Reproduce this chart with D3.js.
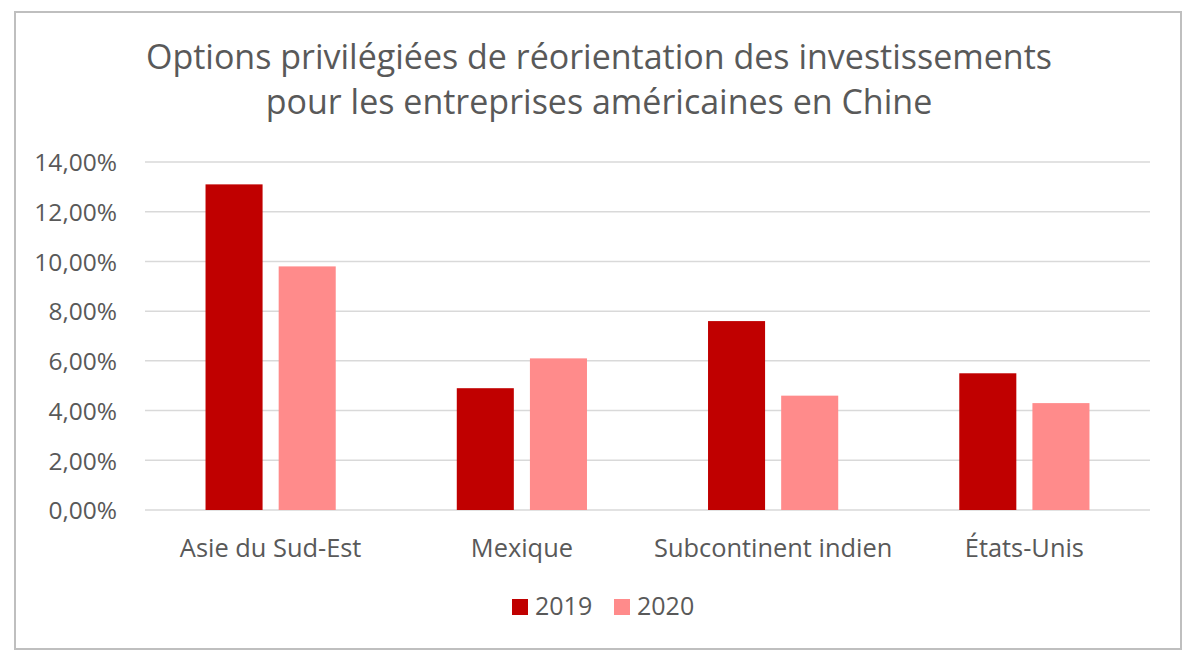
<!DOCTYPE html>
<html>
<head>
<meta charset="utf-8">
<script src="https://cdn.jsdelivr.net/npm/d3@7"></script>
<style>
  html, body { margin: 0; padding: 0; background: #ffffff; }
  svg { display: block; font-family: "Open Sans", sans-serif; }
</style>
</head>
<body>
<svg id="chart" width="1198" height="662"></svg>
<script>
const categories = ["Asie du Sud-Est", "Mexique", "Subcontinent indien", "États-Unis"];
const seriesNames = ["2019", "2020"];
const values2019 = [13.1, 4.9, 7.6, 5.5];
const values2020 = [9.8, 6.1, 4.6, 4.3];
const yTicks = [0, 2, 4, 6, 8, 10, 12, 14];
const titleLines = ["Options privilégiées de réorientation des investissements", "pour les entreprises américaines en Chine"];
const colors = ["#C00000", "#FF8B8B"];

(function () {
const svg = d3.select("#chart");
const textColor = "#595959";

// Border
svg.append("rect")
  .attr("x", 15).attr("y", 12).attr("width", 1166).attr("height", 637)
  .attr("fill", "#fff").attr("stroke", "#BFBFBF").attr("stroke-width", 2);

const pLeft = 145, pRight = 1150, pTop = 162, pBottom = 510;

const x0 = d3.scaleBand().domain(categories).range([pLeft, pRight]).paddingInner(0.4818).paddingOuter(0.2409);
const x1 = d3.scaleBand().domain(seriesNames).range([0, x0.bandwidth()]).paddingInner(0.22);
const y = d3.scaleLinear().domain([0, 14]).range([pBottom, pTop]);

// Gridlines
svg.append("g").selectAll("line").data(yTicks).join("line")
  .attr("x1", pLeft).attr("x2", pRight)
  .attr("y1", d => y(d)).attr("y2", d => y(d))
  .attr("stroke", "#D9D9D9").attr("stroke-width", 1.5);

// Y axis labels
const fmt = d => d.toFixed(2).replace(".", ",") + "%";
const yAxis = d3.axisLeft(y).tickValues(yTicks).tickFormat(fmt).tickSize(0).tickPadding(0);
const yg = svg.append("g").attr("transform", `translate(${pLeft - 28},0)`).call(yAxis);
yg.select(".domain").remove();
yg.selectAll("text").attr("fill", textColor).style("font-size", "24.5px")
  .style("font-family", "'Open Sans', sans-serif").attr("dy", "0.36em");

// Bars
const data = categories.map((c, i) => ({cat: c, vals: [values2019[i], values2020[i]]}));
const groups = svg.append("g").selectAll("g").data(data).join("g")
  .attr("transform", d => `translate(${x0(d.cat)},0)`);
groups.selectAll("rect").data(d => d.vals.map((v, j) => ({s: seriesNames[j], v, j}))).join("rect")
  .attr("x", d => x1(d.s))
  .attr("width", x1.bandwidth())
  .attr("y", d => y(d.v))
  .attr("height", d => y(0) - y(d.v))
  .attr("fill", d => colors[d.j]);

// X axis labels
const xAxis = d3.axisBottom(x0).tickSize(0).tickPadding(0);
const xg = svg.append("g").attr("transform", `translate(0,${pBottom + 47})`).call(xAxis);
xg.select(".domain").remove();
xg.selectAll("text").attr("fill", textColor).style("font-size", "25.4px")
  .style("font-family", "'Open Sans', sans-serif").attr("dy", "0");

// Title
svg.append("g").selectAll("text").data(titleLines).join("text")
  .attr("x", 599).attr("y", (d, i) => 69 + i * 45)
  .attr("text-anchor", "middle")
  .attr("fill", textColor)
  .style("font-size", "34px")
  .text(d => d);

// Legend
const legendX = [512, 614];
const lg = svg.append("g").selectAll("g").data(seriesNames).join("g")
  .attr("transform", (d, i) => `translate(${legendX[i]},599)`);
lg.append("rect").attr("width", 16).attr("height", 16).attr("fill", (d, i) => colors[i]);
lg.append("text").attr("x", 23).attr("y", 16).attr("fill", textColor)
  .style("font-size", "25px").text(d => d);
})();
</script>
</body>
</html>
